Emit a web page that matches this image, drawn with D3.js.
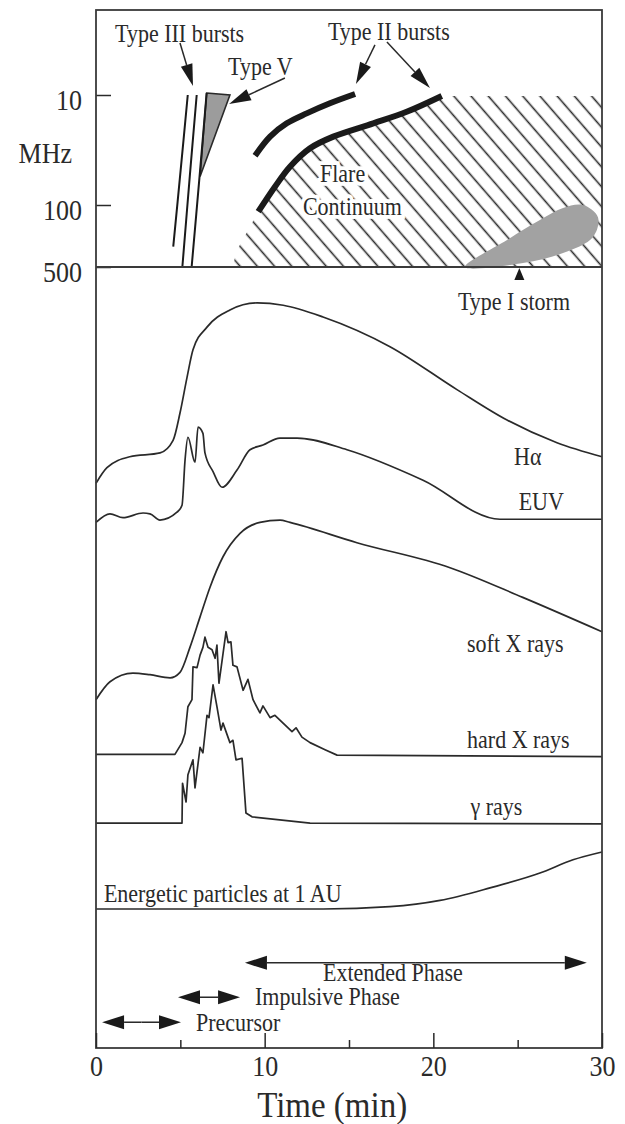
<!DOCTYPE html>
<html>
<head>
<meta charset="utf-8">
<script src="https://cdn.jsdelivr.net/npm/d3@7"></script>
<style>
  html, body { margin: 0; padding: 0; background: #fff; }
  svg { display: block; font-family: "Liberation Serif", "Times New Roman", serif; }
</style>
</head>
<body>
<svg id="chart" width="625" height="1124"></svg>
<script>
// ---- axis ticks ----
const timeTicks = [0, 10, 20, 30];
const timeMinorTicks = [5, 15, 25];
const freqTicks = [10, 100, 500];

// ---- radio spectrum features: [time (min), frequency (MHz)] ----
const typeIIIa = [[5.44, 10], [5.02, 48], [4.58, 295]];
const typeIIIb = [[5.97, 10], [5.56, 55], [5.12, 500]];
const typeIIIc = [[6.56, 9.6], [6.14, 55], [5.67, 500]];
const typeV = [[6.56, 9.6], [7.94, 10], [6.17, 55]];
const typeIIupper = [[9.43, 35.6], [10.32, 23.9], [11.31, 18.1], [12.49, 14.7], [13.87, 11.9], [15.36, 9.8]];
const typeIIlower = [[9.62, 119], [10.61, 68.2], [11.5, 44.9], [12.69, 30.5], [14.07, 23.9], [16.44, 18.1], [18.42, 14.2], [20.5, 10.2]];
const continuumEdge = [[30, 10.2], [30, 500], [8.12, 500], [8.3, 339]];
const typeIStorm = [[21.88, 500], [24.37, 248], [26.32, 148], [27.69, 108], [28.87, 100], [29.76, 137], [29.47, 229], [27.69, 348], [25.32, 451]];

// ---- emission profiles (stacked, arbitrary intensity units): [time (min), level] ----
const halpha = [[0, 72.3], [0.65, 74.3], [2.0, 75.7], [3.8, 76.2], [4.57, 77.8], [4.98, 81.3], [5.4, 85.9], [5.75, 89.4], [6.58, 92.3], [7.94, 94.5], [9.55, 95.4], [11.1, 95.1], [13.46, 93.6], [17.43, 89.8], [21.4, 84.3], [24.37, 80.4], [27.33, 77.5], [30, 75.7]];
const euv = [[0, 67.3], [0.83, 68.4], [1.6, 67.9], [2.79, 68.5], [3.2, 68.4], [3.79, 67.6], [4.8, 68.6], [5.1, 69.5], [5.28, 75.3], [5.45, 78.2], [5.87, 75.0], [6.05, 79.5], [6.34, 78.7], [6.46, 76.2], [6.94, 73.8], [7.47, 71.8], [8.36, 74.0], [9.13, 76.6], [9.9, 77.2], [10.9, 78.1], [11.92, 78.1], [14.88, 76.6], [19.39, 72.7], [23.95, 67.7], [30, 67.7]];
const softXrays = [[0, 44.6], [0.83, 46.9], [2.19, 48.0], [3.2, 47.8], [4.39, 47.4], [4.98, 48.1], [5.57, 51.3], [6.17, 55.2], [6.76, 59.0], [7.53, 62.9], [8.54, 65.9], [9.72, 67.3], [10.91, 67.6], [11.5, 67.3], [15.47, 64.7], [20.99, 61.5], [25.3, 57.7], [30, 53.3]];
const hardXrays = [[0, 37.6], [4.68, 37.6], [5.1, 39.1], [5.28, 40.3], [5.45, 43.7], [5.69, 44.6], [5.75, 48.8], [5.99, 48.7], [6.17, 50.3], [6.34, 51.3], [6.46, 52.6], [6.64, 51.3], [6.88, 51.0], [7.06, 49.9], [7.17, 51.6], [7.29, 46.7], [7.71, 53.3], [7.83, 51.9], [8.0, 52.0], [8.12, 49.0], [8.36, 48.8], [8.72, 45.8], [9.01, 47.2], [9.31, 44.6], [9.72, 42.9], [9.9, 43.8], [10.32, 42.3], [10.61, 42.6], [11.62, 40.5], [11.86, 41.0], [12.21, 39.8], [12.69, 39.1], [13.58, 38.2], [14.29, 37.5], [30, 37.3]];
const gammaRays = [[0, 28.8], [5.1, 28.8], [5.13, 33.9], [5.34, 31.5], [5.45, 35.0], [5.75, 36.9], [5.87, 33.3], [6.17, 38.5], [6.34, 37.8], [6.58, 42.6], [6.7, 42.3], [6.94, 46.5], [7.17, 43.7], [7.41, 40.7], [7.53, 41.6], [7.94, 39.1], [8.12, 39.4], [8.3, 36.9], [8.66, 37.1], [8.89, 30.1], [9.25, 29.6], [12.69, 28.8], [30, 28.7]];
const particles = [[0, 17.8], [13.46, 17.8], [17.43, 18.1], [20.4, 18.9], [23.36, 20.5], [26.32, 22.4], [28.28, 24.1], [30, 25.1]];

// ---- flare phases ----
const phaseNames = ["Precursor", "Impulsive Phase", "Extended Phase"];
const phaseStart = [0.36, 4.86, 8.83];
const phaseEnd = [5.04, 8.54, 29.1];
const phaseLevel = [3.3, 6.5, 10.9];

// ---- layout ----
const frame = { left: 96, right: 602, top: 10, split: 267, bottom: 1048 };
const ink = "#2a2a2a";

const svg = d3.select("#chart");
const x = d3.scaleLinear().domain([0, 30]).range([frame.left, frame.right]);
const f = d3.scaleLog().domain([10, 100, 500]).range([95, 205, frame.split]);
const y = d3.scaleLinear().domain([0, 100]).range([frame.bottom, frame.split]);

const defs = svg.append("defs");
const hatch = defs.append("pattern")
  .attr("id", "hatch")
  .attr("patternUnits", "userSpaceOnUse")
  .attr("width", 13).attr("height", 13)
  .attr("patternTransform", "rotate(-41)");
hatch.append("line")
  .attr("x1", 6.5).attr("y1", -1).attr("x2", 6.5).attr("y2", 14)
  .attr("stroke", ink).attr("stroke-width", 1.6);

// ---------- radio panel ----------
const radio = svg.append("g");
const ft = d3.line().x(d => x(d[0])).y(d => f(d[1]));

// flare continuum: hatched region under the lower type II lane
radio.append("path")
  .attr("d", ft(typeIIlower.concat(continuumEdge)))
  .attr("fill", "url(#hatch)");

radio.append("g").selectAll("text")
  .data([["Flare", 13.28, 61.8], ["Continuum", 12.27, 130]])
  .join("text")
  .attr("x", d => x(d[1])).attr("y", d => f(d[2]))
  .attr("font-size", 22).attr("fill", ink)
  .attr("stroke", "#fff").attr("stroke-width", 7).attr("paint-order", "stroke")
  .text(d => d[0]);

// type I noise storm
radio.append("path")
  .attr("d", d3.line().x(d => x(d[0])).y(d => f(d[1])).curve(d3.curveCatmullRomClosed.alpha(0.5))(typeIStorm))
  .attr("fill", "#a2a2a2");

// type II bursts
[typeIIupper, typeIIlower].forEach(lane => {
  radio.append("path")
    .attr("d", d3.line().x(d => x(d[0])).y(d => f(d[1])).curve(d3.curveCatmullRom.alpha(0.5))(lane))
    .attr("fill", "none").attr("stroke", "#1a1a1a").attr("stroke-width", 6);
});

// type V continuum wedge
radio.append("path")
  .attr("d", d3.line().x(d => x(d[0])).y(d => f(d[1]))(typeV) + "Z")
  .attr("fill", "#9c9c9c").attr("stroke", ink).attr("stroke-width", 1.6);

// type III bursts
[typeIIIa, typeIIIb, typeIIIc].forEach(b => {
  radio.append("path")
    .attr("d", d3.line().x(d => x(d[0])).y(d => f(d[1])).curve(d3.curveCatmullRom)(b))
    .attr("fill", "none").attr("stroke", "#1a1a1a").attr("stroke-width", 2);
});

// arrow with a filled head at (x2, y2)
function arrow(g, x1, y1, x2, y2, len, hw) {
  const a = Math.atan2(y2 - y1, x2 - x1);
  const bx = x2 - len * Math.cos(a), by = y2 - len * Math.sin(a);
  g.append("line").attr("x1", x1).attr("y1", y1).attr("x2", bx).attr("y2", by)
    .attr("stroke", ink).attr("stroke-width", 1.5);
  g.append("path")
    .attr("d", `M${x2},${y2}L${bx + hw * Math.sin(a)},${by - hw * Math.cos(a)}L${bx - hw * Math.sin(a)},${by + hw * Math.cos(a)}Z`)
    .attr("fill", "#1a1a1a");
}

// burst labels and pointers
const notes = radio.append("g").attr("font-size", 22).attr("fill", ink);
notes.append("text").attr("x", x(1.13)).attr("y", f(3.3)).text("Type III bursts");
notes.append("text").attr("x", x(7.83)).attr("y", f(6.58)).text("Type V");
notes.append("text").attr("x", x(13.75)).attr("y", f(3.16)).text("Type II bursts");
arrow(radio, x(4.98), f(3.37), x(5.75), f(8.3), 22, 6);
arrow(radio, x(11.2), f(7.0), x(7.89), f(12.1), 22, 6);
arrow(radio, x(16.54), f(3.5), x(15.41), f(7.95), 22, 6);
arrow(radio, x(17.25), f(3.3), x(19.8), f(8.64), 22, 6);

// frequency axis (ticks point inward)
const fAxis = svg.append("g")
  .attr("transform", `translate(${frame.left},0)`)
  .call(d3.axisLeft(f).tickValues(freqTicks).tickSize(-15).tickPadding(14).tickFormat(d3.format("d")));
fAxis.select(".domain").remove();
fAxis.selectAll("line").attr("stroke", ink).attr("stroke-width", 1.5);
fAxis.selectAll("text").attr("font-size", 26).attr("font-family", "Liberation Serif").attr("fill", ink).attr("dy", "0.5em");
svg.append("text")
  .attr("x", frame.left - 24).attr("y", f(35) + 8)
  .attr("text-anchor", "end").attr("font-size", 26).attr("fill", ink)
  .text("MHz");

// ---------- emission panel ----------
const em = svg.append("g");
const smooth = d3.line().x(d => x(d[0])).y(d => y(d[1])).curve(d3.curveMonotoneX);
const jagged = d3.line().x(d => x(d[0])).y(d => y(d[1]));

[[halpha, smooth], [euv, smooth], [softXrays, smooth], [hardXrays, jagged], [gammaRays, jagged], [particles, smooth]]
  .forEach(([s, gen]) => {
    em.append("path").attr("d", gen(s))
      .attr("fill", "none").attr("stroke", ink).attr("stroke-width", 1.7)
      .attr("stroke-linejoin", "round");
  });

const emLabels = em.append("g").attr("font-size", 22).attr("fill", ink);
emLabels.append("text").attr("x", x(25.6)).attr("y", y(74.6)).attr("text-anchor", "middle").text("Hα");
emLabels.append("text").attr("x", x(26.4)).attr("y", y(68.9)).attr("text-anchor", "middle").text("EUV");
emLabels.append("text").attr("x", x(22.0)).attr("y", y(50.7)).text("soft X rays");
emLabels.append("text").attr("x", x(22.0)).attr("y", y(38.4)).text("hard X rays");
emLabels.append("text").attr("x", x(22.2)).attr("y", y(29.8)).text("γ  rays");
emLabels.append("text").attr("x", x(0.47)).attr("y", y(18.7)).text("Energetic particles at 1 AU");
emLabels.append("text").attr("x", x(21.46)).attr("y", y(94.5)).text("Type I storm");

// pointer from the storm label up to the storm
const stormX = x(25.1);
em.append("path")
  .attr("d", `M${stormX},${frame.split + 1}L${stormX - 5},${frame.split + 13}L${stormX + 5},${frame.split + 13}Z`)
  .attr("fill", "#1a1a1a");

// phase intervals: double-headed arrows
phaseNames.forEach((name, i) => {
  const x1 = x(phaseStart[i]), x2 = x(phaseEnd[i]), yy = y(phaseLevel[i]);
  const mid = (x1 + x2) / 2;
  arrow(em, mid, yy, x1, yy, 22, 7);
  arrow(em, mid, yy, x2, yy, 22, 7);
});
const phaseLabelT = [5.93, 9.43, 13.46];
const phaseLabelV = [2.2, 5.5, 8.6];
em.append("g").attr("font-size", 22).attr("fill", ink)
  .selectAll("text").data(phaseNames).join("text")
  .attr("x", (d, i) => x(phaseLabelT[i])).attr("y", (d, i) => y(phaseLabelV[i]))
  .text(d => d);

// ---------- frame and time axis ----------
svg.append("rect")
  .attr("x", frame.left).attr("y", frame.top)
  .attr("width", frame.right - frame.left).attr("height", frame.bottom - frame.top)
  .attr("fill", "none").attr("stroke", "#3a3a3a").attr("stroke-width", 1.8);
svg.append("line")
  .attr("x1", frame.left).attr("x2", frame.right).attr("y1", frame.split).attr("y2", frame.split)
  .attr("stroke", "#3a3a3a").attr("stroke-width", 1.8);

const tAxis = svg.append("g")
  .attr("transform", `translate(0,${frame.bottom})`)
  .call(d3.axisBottom(x).tickValues(timeTicks).tickSize(-15).tickPadding(8).tickFormat(d3.format("d")));
tAxis.select(".domain").remove();
tAxis.selectAll("line").attr("stroke", ink).attr("stroke-width", 1.5);
tAxis.selectAll("text").attr("font-size", 26).attr("font-family", "Liberation Serif").attr("fill", ink);

const tMinor = svg.append("g")
  .attr("transform", `translate(0,${frame.bottom})`)
  .call(d3.axisBottom(x).tickValues(timeMinorTicks).tickSize(-8).tickFormat(""));
tMinor.select(".domain").remove();
tMinor.selectAll("line").attr("stroke", ink).attr("stroke-width", 1.5);

svg.append("text")
  .attr("x", x(14)).attr("y", 1117)
  .attr("text-anchor", "middle").attr("font-size", 33).attr("fill", ink)
  .text("Time (min)");

// the serif lettering is set slightly tall: stretch each label vertically about its baseline
svg.selectAll("text").each(function () {
  const t = d3.select(this);
  const tx = +t.attr("x") || 0, ty = +t.attr("y") || 0;
  t.attr("x", 0).attr("y", 0)
    .attr("transform", `translate(${tx},${ty}) scale(1,1.1)`);
});
</script>
</body>
</html>
